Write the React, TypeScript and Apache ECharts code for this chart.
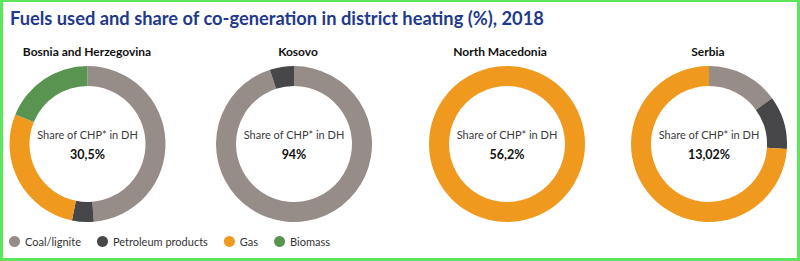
import React, { useEffect, useRef } from "react";
import * as echarts from "echarts";

const fuels = ["Coal/lignite", "Petroleum products", "Gas", "Biomass"];
const fuelColors = ["#968c88", "#474749", "#ef991f", "#5a9451"];
const countries = ["Bosnia and Herzegovina", "Kosovo", "North Macedonia", "Serbia"];
const chpShare = ["30,5%", "94%", "56,2%", "13,02%"];
const bihValues = [48.7, 4.5, 28, 18.8];
const kosovoValues = [95, 5, 0, 0];
const macedoniaValues = [0, 0, 100, 0];
const serbiaValues = [15, 11, 74, 0];
const countryValues = [bihValues, kosovoValues, macedoniaValues, serbiaValues];

const centersX = [87.5, 294, 507, 709];
const centerY = 144;
const FONT = "Lato";

export default function App() {
  const ref = useRef<HTMLDivElement>(null);
  useEffect(() => {
    if (!ref.current) return;
    const chart = echarts.init(ref.current, null, { renderer: "svg" });
    const series = countryValues.map((vals, ci) => ({
      type: "pie",
      name: countries[ci],
      center: [centersX[ci], centerY],
      radius: [58, 78],
      startAngle: 90,
      clockwise: true,
      silent: true,
      label: { show: false },
      labelLine: { show: false },
      itemStyle: { borderWidth: 0 },
      data: fuels
        .map((f, fi) => ({ name: f, value: vals[fi], itemStyle: { color: fuelColors[fi] } }))
        .filter((d) => d.value > 0),
    }));
    const graphics: any[] = [
      { type: "rect", shape: { x: 0, y: 0, width: 800, height: 2 }, style: { fill: "#5ce65c" } },
      { type: "rect", shape: { x: 0, y: 258, width: 800, height: 3 }, style: { fill: "#5ce65c" } },
      { type: "rect", shape: { x: 0, y: 0, width: 3, height: 261 }, style: { fill: "#5ce65c" } },
      { type: "rect", shape: { x: 797, y: 0, width: 3, height: 261 }, style: { fill: "#5ce65c" } },
      {
        type: "text",
        x: 10,
        y: 18,
        style: {
          text: "Fuels used and share of co-generation in district heating (%), 2018",
          fill: "#1f3a8c",
          font: `bold 18.3px ${FONT}`,
          textVerticalAlign: "middle",
        },
      },
    ];
    countries.forEach((c, ci) => {
      graphics.push({
        type: "text",
        x: [87, 298, 500, 708][ci],
        y: 51,
        style: { text: c, fill: "#111", font: `bold 12px ${FONT}`, textAlign: "center", textVerticalAlign: "middle" },
      });
      graphics.push({
        type: "text",
        x: centersX[ci],
        y: 134,
        style: { text: "Share of CHP* in DH", fill: "#3c3c3c", font: `11px ${FONT}`, textAlign: "center", textVerticalAlign: "middle" },
      });
      graphics.push({
        type: "text",
        x: centersX[ci],
        y: 154,
        style: { text: chpShare[ci], fill: "#111", font: `bold 12.5px ${FONT}`, textAlign: "center", textVerticalAlign: "middle" },
      });
    });
    chart.setOption({
      animation: false,
      backgroundColor: "#fff",
      legend: {
        data: fuels,
        left: 9,
        top: 236,
        padding: 0,
        icon: "circle",
        itemWidth: 11,
        itemHeight: 11,
        itemGap: 16,
        selectedMode: false,
        textStyle: { color: "#333", fontSize: 11, fontFamily: FONT },
      },
      series,
      graphic: graphics,
    });
    return () => chart.dispose();
  }, []);
  return <div ref={ref} style={{ position: "fixed", left: 0, top: 0, width: 800, height: 261 }} />;
}
